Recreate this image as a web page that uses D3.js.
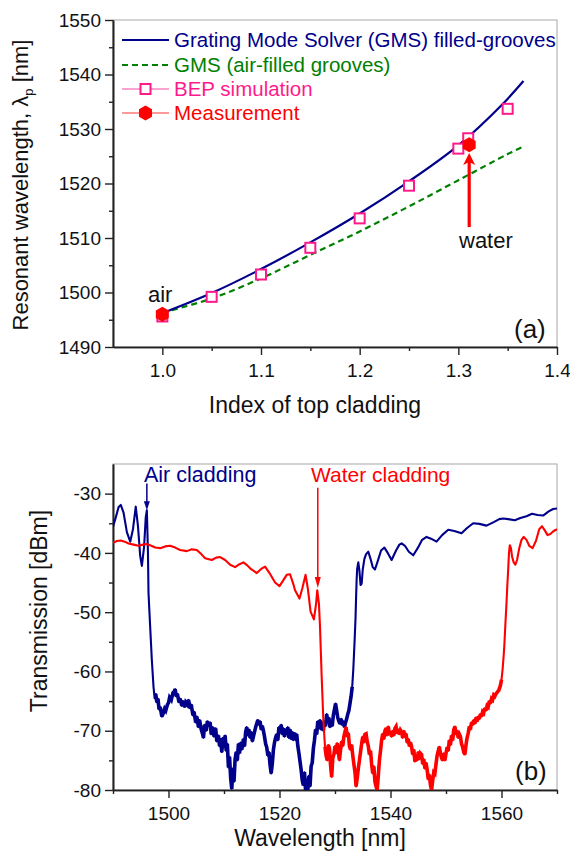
<!DOCTYPE html>
<html><head><meta charset="utf-8">
<script src="https://cdn.jsdelivr.net/npm/d3@7"></script>
<style>
html,body{margin:0;padding:0;background:#fff;}
svg{display:block;font-family:"Liberation Sans",Arial,sans-serif;}
</style></head>
<body>
<svg id="c" width="570" height="855"></svg>
<script>
// ---------- Panel (a) data ----------
const gmsX = [1.0, 1.05, 1.1, 1.15, 1.2, 1.25, 1.3, 1.345, 1.366];
const gmsFilled = [1496.2, 1499.9, 1504.3, 1509.2, 1514.5, 1520.4, 1527.0, 1534.6, 1538.8];
const gmsAirX = [1.0, 1.05, 1.1, 1.15, 1.2, 1.25, 1.3, 1.35, 1.366];
const gmsAir = [1496.3, 1498.9, 1502.6, 1506.9, 1511.2, 1515.8, 1520.6, 1525.4, 1526.8];
const bepX = [1.0, 1.05, 1.1, 1.15, 1.2, 1.25, 1.3, 1.31, 1.35];
const bepY = [1495.6, 1499.2, 1503.3, 1508.2, 1513.6, 1519.6, 1526.4, 1528.3, 1533.7];
const measX = [1.0, 1.311];
const measY = [1496.0, 1527.1];
const legendLabels = ["Grating Mode Solver (GMS) filled-grooves", "GMS (air-filled grooves)", "BEP simulation", "Measurement"];
const xTicksA = [1.0, 1.1, 1.2, 1.3, 1.4];
const yTicksA = [1490, 1500, 1510, 1520, 1530, 1540, 1550];

// ---------- Panel (b) data : [wavelength nm, transmission dBm] ----------
const airCladding = [
[1490,-35.6],[1490.5,-34.0],[1491,-32.3],[1491.4,-31.9],[1491.9,-33.2],[1492.5,-36.5],[1493.1,-38.1],[1493.6,-36.0],[1494.1,-32.2],[1494.5,-35.5],[1494.9,-40.5],[1495.2,-42.2],[1495.6,-39.0],[1495.9,-34.0],[1496.1,-32.8],[1496.3,-40.0],[1496.4,-46.8],[1496.7,-52.5],[1497.0,-58.1],[1497.3,-62.6],[1497.5,-64.5],[1497.7,-63.8],[1497.9,-65.2],[1498.1,-64.6],[1498.3,-66.4],[1498.5,-66.0],[1498.8,-67.6],[1499.0,-67.2],[1499.3,-66.3],[1499.5,-66.6],[1499.8,-65.6],[1500.0,-65.3],[1500.2,-64.4],[1500.5,-64.8],[1500.8,-63.6],[1501.0,-63.4],[1501.2,-63.0],[1501.4,-64.2],[1501.6,-63.8],[1501.9,-65.2],[1502.1,-64.6],[1502.4,-65.8],[1502.6,-65.0],[1502.9,-66.0],[1503.1,-65.2],[1503.4,-65.6],[1503.6,-64.8],[1503.9,-66.2],[1504.1,-65.6],[1504.4,-67.4],[1504.6,-66.8],[1504.9,-68.6],[1505.1,-67.6],[1505.4,-69.4],[1505.6,-68.2],[1505.9,-69.8],[1506.1,-70.4],[1506.3,-71.2],[1506.5,-69.0],[1506.8,-70.0],[1507.0,-68.4],[1507.2,-69.2],[1507.5,-68.6],[1507.7,-70.6],[1508.0,-69.4],[1508.2,-71.0],[1508.5,-69.6],[1508.7,-71.8],[1509.0,-70.8],[1509.2,-72.6],[1509.4,-71.4],[1509.6,-73.6],[1509.8,-71.2],[1510.0,-72.8],[1510.2,-70.8],[1510.4,-73.4],[1510.6,-72.2],[1510.8,-76.2],[1511.0,-74.4],[1511.2,-78.0],[1511.4,-79.8],[1511.6,-76.4],[1511.8,-78.6],[1512.0,-74.8],[1512.2,-73.6],[1512.4,-75.0],[1512.6,-72.2],[1512.8,-73.8],[1513.0,-72.0],[1513.2,-73.2],[1513.5,-71.4],[1513.7,-72.6],[1513.9,-70.2],[1514.1,-69.4],[1514.3,-70.8],[1514.5,-69.8],[1514.7,-71.2],[1514.9,-70.2],[1515.1,-71.8],[1515.3,-71.0],[1515.5,-70.2],[1515.7,-69.4],[1515.9,-68.8],[1516.1,-68.2],[1516.3,-69.0],[1516.5,-68.4],[1516.7,-69.8],[1516.9,-69.2],[1517.1,-70.0],[1517.3,-71.0],[1517.5,-72.2],[1517.7,-72.8],[1517.9,-74.2],[1518.1,-73.6],[1518.3,-75.8],[1518.5,-77.2],[1518.7,-75.6],[1518.9,-73.2],[1519.1,-72.0],[1519.3,-71.2],[1519.5,-70.6],[1519.7,-71.6],[1519.9,-69.4],[1520.1,-70.2],[1520.3,-69.0],[1520.5,-70.6],[1520.7,-69.6],[1520.9,-71.0],[1521.1,-69.8],[1521.3,-70.6],[1521.5,-69.4],[1521.7,-71.2],[1521.9,-69.8],[1522.1,-71.4],[1522.3,-70.2],[1522.5,-71.6],[1522.7,-70.4],[1522.9,-71.0],[1523.1,-70.6],[1523.3,-72.6],[1523.5,-73.8],[1523.7,-75.2],[1523.9,-76.6],[1524.1,-78.4],[1524.3,-79.2],[1524.5,-77.0],[1524.7,-80],[1524.9,-78.2],[1525.1,-80],[1525.3,-77.6],[1525.5,-79.4],[1525.7,-76.0],[1525.9,-75.4],[1526.1,-73.0],[1526.3,-71.6],[1526.5,-69.8],[1526.7,-70.6],[1526.9,-68.4],[1527.1,-69.6],[1527.3,-68.2],[1527.5,-69.8],[1527.7,-68.6],[1527.9,-70.0],[1528.1,-68.4],[1528.3,-69.2],[1528.5,-67.2],[1528.7,-68.6],[1528.9,-67.8],[1529.1,-69.4],[1529.3,-68.4],[1529.5,-69.2],[1529.7,-67.4],[1529.9,-66.4],[1530.1,-65.4],[1530.3,-66.6],[1530.5,-67.8],[1530.7,-68.4],[1530.9,-68.8],[1531.1,-68.0],[1531.3,-69.0],[1531.5,-68.4],[1531.7,-69.4],[1531.9,-68.6],[1532.1,-68.0],[1532.3,-67.2],[1532.5,-66.6],[1532.7,-65.4],[1532.9,-64.2],[1533.1,-62.6],[1533.3,-59.6],[1533.5,-55.5],[1533.7,-51.0],[1533.8,-47.5],[1533.9,-44.5],[1534.0,-42.6],[1534.2,-41.6],[1534.4,-43.0],[1534.6,-45.4],[1534.8,-45.2],[1535.0,-42.8],[1535.3,-41.0],[1535.6,-40.2],[1536.0,-39.8],[1536.4,-41.0],[1536.8,-42.4],[1537.2,-42.8],[1537.7,-41.4],[1538.3,-39.6],[1538.9,-39.1],[1539.5,-40.0],[1540.2,-41.2],[1541.0,-39.6],[1541.6,-38.6],[1542.0,-38.4],[1542.6,-38.8],[1543.3,-39.8],[1544.1,-40.4],[1544.9,-39.2],[1545.7,-37.8],[1546.5,-37.3],[1547.3,-37.6],[1548.3,-38.1],[1549.3,-37.0],[1550.4,-36.1],[1551.5,-36.3],[1552.8,-36.7],[1553.8,-35.8],[1554.9,-35.0],[1556.0,-35.1],[1557.3,-35.4],[1558.6,-34.8],[1559.6,-34.3],[1560.3,-34.2],[1561.2,-34.3],[1562.4,-34.5],[1563.4,-34.1],[1564.5,-33.8],[1565.5,-33.4],[1566.5,-33.6],[1567.5,-33.7],[1568.5,-33.0],[1569.3,-32.6],[1570,-32.5]
];
const waterCladding = [
[1490,-38.3],[1490.7,-38.0],[1491.4,-37.9],[1492.1,-38.1],[1492.8,-38.4],[1493.7,-38.6],[1494.6,-38.8],[1495.4,-38.6],[1496.1,-38.5],[1496.9,-38.8],[1497.6,-39.1],[1498.5,-39.2],[1499.4,-38.9],[1500.3,-38.8],[1501.2,-39.1],[1502.1,-39.5],[1503.3,-39.7],[1504.2,-39.4],[1505.1,-39.5],[1505.9,-40.2],[1506.6,-40.9],[1507.8,-41.2],[1508.6,-40.8],[1509.3,-40.7],[1510.2,-41.2],[1511.1,-42.0],[1512.0,-42.4],[1512.8,-41.9],[1513.5,-41.6],[1514.2,-42.1],[1514.7,-42.6],[1515.9,-43.4],[1516.7,-42.7],[1517.4,-42.3],[1518.2,-43.4],[1519.2,-45.0],[1520.0,-45.6],[1520.7,-44.6],[1521.3,-43.7],[1521.9,-43.6],[1522.4,-45.0],[1522.8,-46.3],[1523.6,-47.7],[1524.1,-46.0],[1524.7,-43.7],[1525.1,-46.0],[1525.6,-49.9],[1526.2,-51.2],[1526.6,-48.5],[1526.8,-46.3],[1527.1,-48.5],[1527.3,-52.5],[1527.6,-60.9],[1527.9,-68.2],[1528.2,-72.7],
[1528.4,-74.2],[1528.6,-75.0],[1528.8,-72.4],[1529.0,-73.0],[1529.2,-75.8],[1529.4,-77.8],[1529.6,-74.6],[1529.8,-74.0],[1530.0,-72.6],[1530.2,-73.8],[1530.4,-72.1],[1530.6,-73.6],[1530.8,-75.0],[1531.0,-73.2],[1531.2,-71.8],[1531.4,-72.6],[1531.6,-71.0],[1531.8,-70.2],[1532.0,-69.4],[1532.2,-71.0],[1532.4,-70.4],[1532.6,-72.6],[1532.8,-73.2],[1533.0,-72.4],[1533.2,-74.2],[1533.4,-75.6],[1533.6,-77.0],[1533.8,-79.4],[1534.0,-78.0],[1534.2,-76.4],[1534.4,-75.0],[1534.6,-73.6],[1534.8,-72.2],[1535.0,-71.0],[1535.2,-72.0],[1535.4,-70.6],[1535.6,-70.5],[1535.8,-71.8],[1536.0,-72.6],[1536.2,-74.0],[1536.4,-73.4],[1536.6,-75.6],[1536.8,-77.2],[1537.0,-76.0],[1537.2,-78.6],[1537.4,-79.4],[1537.6,-80],[1537.8,-77.6],[1538.0,-75.0],[1538.2,-73.4],[1538.4,-71.6],[1538.6,-70.5],[1538.8,-71.4],[1539.0,-70.0],[1539.2,-69.6],[1539.4,-70.8],[1539.6,-69.3],[1539.8,-70.6],[1540.0,-70.2],[1540.2,-71.0],[1540.4,-70.0],[1540.6,-70.8],[1540.8,-69.6],[1541.0,-69.3],[1541.2,-70.4],[1541.4,-69.8],[1541.6,-70.6],[1541.8,-69.9],[1542.0,-70.2],[1542.2,-71.2],[1542.4,-70.0],[1542.6,-71.0],[1542.8,-70.5],[1543.0,-72.0],[1543.2,-71.4],[1543.4,-72.6],[1543.6,-72.0],[1543.8,-72.7],[1544.0,-74.0],[1544.2,-73.2],[1544.4,-75.2],[1544.6,-74.4],[1544.8,-75.0],[1545.0,-73.6],[1545.2,-74.8],[1545.4,-73.8],[1545.6,-74.0],[1545.8,-75.6],[1546.0,-74.8],[1546.2,-76.4],[1546.4,-75.4],[1546.6,-76.6],[1546.8,-78.2],[1547.0,-77.4],[1547.2,-79.2],[1547.4,-80],[1547.6,-78.4],[1547.8,-77.0],[1548.0,-77.2],[1548.2,-75.6],[1548.4,-74.2],[1548.6,-73.4],[1548.8,-72.7],[1549.0,-73.8],[1549.2,-74.6],[1549.4,-75.0],[1549.6,-73.8],[1549.8,-75.0],[1550.0,-73.8],[1550.2,-72.8],[1550.4,-73.4],[1550.6,-71.6],[1550.8,-72.4],[1551.0,-70.8],[1551.2,-71.6],[1551.4,-69.8],[1551.6,-69.3],[1551.8,-70.6],[1552.0,-70.0],[1552.2,-71.2],[1552.4,-70.6],[1552.6,-71.0],[1552.8,-72.2],[1553.0,-72.8],[1553.2,-73.6],[1553.4,-74.0],[1553.6,-72.4],[1553.8,-71.2],[1554.0,-70.4],[1554.2,-69.3],[1554.4,-69.8],[1554.6,-68.6],[1554.8,-69.0],[1555.0,-68.2],[1555.2,-68.8],[1555.4,-67.8],[1555.6,-68.4],[1555.8,-67.6],[1556.0,-68.0],[1556.2,-67.2],[1556.4,-67.6],[1556.6,-66.8],[1556.8,-67.0],[1557.0,-66.2],[1557.2,-66.6],[1557.4,-65.8],[1557.6,-66.0],[1557.8,-65.0],[1558.0,-65.4],[1558.2,-64.6],[1558.4,-64.8],[1558.6,-64.0],[1558.8,-64.2],[1559.0,-63.8],[1559.3,-63.4],[1559.5,-63.2],[1559.8,-62.4],[1560.0,-61.4],[1560.2,-59.6],[1560.4,-57.2],[1560.5,-55.8],[1560.7,-52.0],[1560.9,-48.5],[1561.05,-45.5],[1561.2,-42.9],[1561.35,-40.0],[1561.5,-38.7],[1561.7,-39.2],[1561.9,-40.6],[1562.2,-41.6],[1562.5,-42.0],[1562.8,-41.2],[1563.2,-39.2],[1563.6,-37.8],[1564.0,-37.3],[1564.5,-37.8],[1565.0,-38.8],[1565.6,-39.2],[1566.2,-38.0],[1566.8,-36.0],[1567.3,-35.5],[1567.8,-36.2],[1568.3,-37.0],[1568.8,-36.8],[1569.4,-36.3],[1570,-36.0]
];
// wavelength ranges where the measured traces are noisy (stop bands)
const airNoisyRange = [1497.6, 1533.2];
const waterNoisyRange = [1528.2, 1560.0];
const xTicksB = [1500, 1520, 1540, 1560];
const yTicksB = [-80, -70, -60, -50, -40, -30];

// ---------- drawing ----------
const NAVY = "#00008b", GREEN = "#008000", PINK = "#ff1a8c", RED = "#ff0000";
const svg = d3.select("#c");
const FONT = "Liberation Sans, Arial, sans-serif";

function frame(g, x, y, xMajor, yMajor, xMinor, yMinor, xfmt, yfmt) {
  const [x0, x1] = x.range(), [y0, y1] = y.range();
  g.append("rect").attr("x", x0).attr("y", y1).attr("width", x1 - x0).attr("height", y0 - y1)
    .attr("fill", "none").attr("stroke", "#a8a8a8").attr("stroke-width", 1);
  const ax = g.append("g").attr("transform", `translate(0,${y0})`)
    .call(d3.axisBottom(x).tickValues(xMajor).tickSize(8).tickSizeOuter(0).tickPadding(4).tickFormat(xfmt));
  const axm = g.append("g").attr("transform", `translate(0,${y0})`)
    .call(d3.axisBottom(x).tickValues(xMinor).tickSize(4).tickSizeOuter(0).tickFormat(""));
  const ay = g.append("g").attr("transform", `translate(${x0},0)`)
    .call(d3.axisLeft(y).tickValues(yMajor).tickSize(8).tickSizeOuter(0).tickPadding(4).tickFormat(yfmt));
  const aym = g.append("g").attr("transform", `translate(${x0},0)`)
    .call(d3.axisLeft(y).tickValues(yMinor).tickSize(4).tickSizeOuter(0).tickFormat(""));
  [ax, axm, ay, aym].forEach(a => {
    a.selectAll("path").attr("stroke", "#222").attr("stroke-width", 1.6);
    a.selectAll("line").attr("stroke", "#222").attr("stroke-width", 1.4);
    a.selectAll("text").attr("fill", "#111").style("font-size", "19px").style("font-family", FONT);
  });
  ax.selectAll("text").attr("dy", "0.95em");
}

// ===== Panel (a) =====
const xA = d3.scaleLinear().domain([0.95, 1.4]).range([113, 557]);
const yA = d3.scaleLinear().domain([1490, 1550]).range([347, 20]);
const gA = svg.append("g");
frame(gA, xA, yA, xTicksA, yTicksA, [1.05, 1.15, 1.25, 1.35], [1495, 1505, 1515, 1525, 1535, 1545],
  d3.format(".1f"), d => String(d));

const lineA = d3.line().x(d => xA(d[0])).y(d => yA(d[1])).curve(d3.curveCatmullRom);
gA.append("path").datum(gmsAirX.map((v, i) => [v, gmsAir[i]])).attr("d", lineA)
  .attr("fill", "none").attr("stroke", GREEN).attr("stroke-width", 2.2).attr("stroke-dasharray", "6,4");
gA.append("path").datum(gmsX.map((v, i) => [v, gmsFilled[i]])).attr("d", lineA)
  .attr("fill", "none").attr("stroke", NAVY).attr("stroke-width", 2.2);

const SQ = 10;
function square(g, cx, cy) {
  g.append("rect").attr("x", cx - SQ / 2).attr("y", cy - SQ / 2).attr("width", SQ).attr("height", SQ)
    .attr("fill", "#fff").attr("stroke", PINK).attr("stroke-width", 2);
}
function hexPath(cx, cy, r) {
  const pts = d3.range(6).map(k => { const a = Math.PI / 2 + k * Math.PI / 3; return [cx + r * Math.cos(a), cy + r * Math.sin(a)]; });
  return d3.line()(pts) + "Z";
}
bepX.forEach((v, i) => square(gA, xA(v), yA(bepY[i])));
measX.forEach((v, i) => gA.append("path").attr("d", hexPath(xA(v), yA(measY[i]), 7.5)).attr("fill", RED));

// legend
const legY = [40, 65, 89, 113];
const legCol = [NAVY, GREEN, PINK, RED];
legendLabels.forEach((t, i) => {
  const y = legY[i];
  const ln = gA.append("line").attr("x1", 122).attr("x2", 169).attr("y1", y).attr("y2", y).attr("stroke", legCol[i]);
  if (i === 0) ln.attr("stroke-width", 2.2);
  if (i === 1) ln.attr("stroke-width", 2.2).attr("stroke-dasharray", "6,4");
  if (i >= 2) ln.attr("stroke-width", 0.8);
  if (i === 2) square(gA, 145.5, y);
  if (i === 3) gA.append("path").attr("d", hexPath(145.5, y, 7.5)).attr("fill", RED);
  gA.append("text").attr("x", 174).attr("y", y + 7).text(t).attr("fill", legCol[i])
    .style("font-size", "20.5px").style("font-family", FONT);
});

// annotations (a)
gA.append("text").attr("x", 148).attr("y", 302).text("air").style("font-size", "22px").style("font-family", FONT).attr("fill", "#111");
gA.append("text").attr("x", 459).attr("y", 248).text("water").style("font-size", "22px").style("font-family", FONT).attr("fill", "#111");
{
  const ax = xA(1.311), yTip = yA(1525.6), yBot = yA(1512.0);
  gA.append("line").attr("x1", ax).attr("x2", ax).attr("y1", yBot).attr("y2", yTip + 8).attr("stroke", RED).attr("stroke-width", 3.2);
  gA.append("path").attr("d", `M${ax},${yTip} L${ax - 6},${yTip + 12} L${ax},${yTip + 9} L${ax + 6},${yTip + 12} Z`).attr("fill", RED);
}
gA.append("text").attr("x", 514).attr("y", 338).text("(a)").style("font-size", "26px").style("font-family", FONT).attr("fill", "#111");
gA.append("text").attr("x", 315).attr("y", 413).attr("text-anchor", "middle").text("Index of top cladding")
  .style("font-size", "23px").style("font-family", FONT).attr("fill", "#111");
{
  const t = gA.append("text").attr("transform", "translate(28,185) rotate(-90)").attr("text-anchor", "middle")
    .style("font-size", "22px").style("font-family", FONT).attr("fill", "#111");
  t.append("tspan").text("Resonant wavelength, λ");
  t.append("tspan").attr("dy", 5).style("font-size", "13px").text("p");
  t.append("tspan").attr("dy", -5).text(" [nm]");
}

// ===== Panel (b) =====
const xB = d3.scaleLinear().domain([1490, 1570]).range([113, 557]);
const yB = d3.scaleLinear().domain([-80, -25]).range([790, 464]);
const gB = svg.append("g");
svg.append("defs").append("clipPath").attr("id", "clipB").append("rect")
  .attr("x", 113).attr("y", 464).attr("width", 444).attr("height", 326);
frame(gB, xB, yB, xTicksB, yTicksB, [1490, 1510, 1530, 1550, 1570], [-75, -65, -55, -45, -35],
  d => String(d), d => String(d));

const lineB = d3.line().x(d => xB(d[0])).y(d => yB(d[1]));
const curves = gB.append("g").attr("clip-path", "url(#clipB)");
function trace(data, range, color) {
  curves.append("path").datum(data).attr("d", lineB).attr("fill", "none").attr("stroke", color)
    .attr("stroke-width", 2.1).attr("stroke-linejoin", "round");
  // noisy stop band drawn as a thicker band
  curves.append("path").datum(data.filter(d => d[0] >= range[0] && d[0] <= range[1])).attr("d", lineB)
    .attr("fill", "none").attr("stroke", color).attr("stroke-width", 3.6).attr("stroke-linejoin", "miter").attr("stroke-miterlimit", 3);
}
trace(airCladding, airNoisyRange, NAVY);
trace(waterCladding, waterNoisyRange, RED);

gB.append("text").attr("x", 144).attr("y", 482).text("Air cladding").attr("fill", NAVY).style("font-size", "21.5px").style("font-family", FONT);
gB.append("text").attr("x", 311).attr("y", 482).text("Water cladding").attr("fill", RED).style("font-size", "21px").style("font-family", FONT);
{
  const ax = xB(1496.1), y0 = yB(-28.3), yTip = yB(-32.8);
  gB.append("line").attr("x1", ax).attr("x2", ax).attr("y1", y0).attr("y2", yTip - 4).attr("stroke", NAVY).attr("stroke-width", 1.5);
  gB.append("path").attr("d", `M${ax},${yTip} L${ax - 3},${yTip - 9} L${ax + 3},${yTip - 9} Z`).attr("fill", NAVY);
}
{
  const ax = xB(1526.9), y0 = yB(-29.0), yTip = yB(-45.9);
  gB.append("line").attr("x1", ax).attr("x2", ax).attr("y1", y0).attr("y2", yTip - 4).attr("stroke", RED).attr("stroke-width", 1.5);
  gB.append("path").attr("d", `M${ax},${yTip} L${ax - 3},${yTip - 11} L${ax + 3},${yTip - 11} Z`).attr("fill", RED);
}
gB.append("text").attr("x", 515).attr("y", 780).text("(b)").style("font-size", "26px").style("font-family", FONT).attr("fill", "#111");
gB.append("text").attr("x", 320).attr("y", 846).attr("text-anchor", "middle").text("Wavelength [nm]")
  .style("font-size", "23px").style("font-family", FONT).attr("fill", "#111");
gB.append("text").attr("transform", "translate(47,611) rotate(-90)").attr("text-anchor", "middle")
  .text("Transmission [dBm]").style("font-size", "23px").style("font-family", FONT).attr("fill", "#111");
</script>
</body></html>
